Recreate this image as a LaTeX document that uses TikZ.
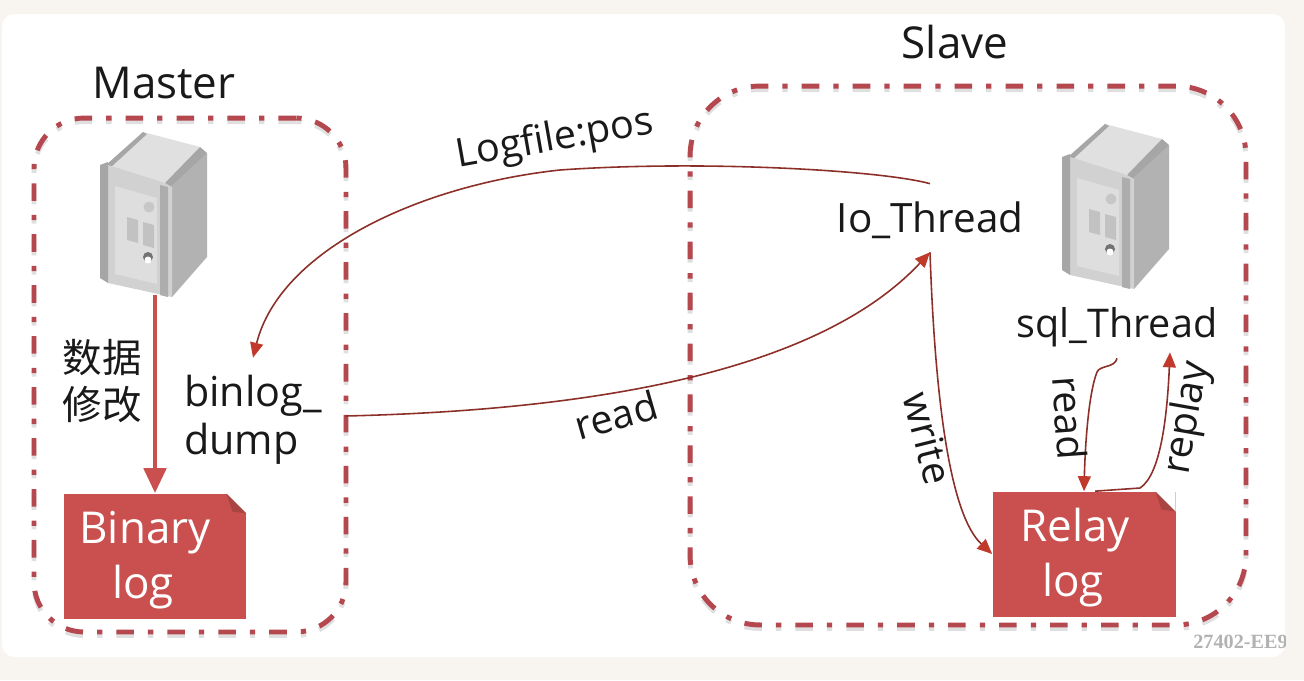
\documentclass[tikz,border=0pt]{standalone}
\usepackage{fontspec}
\setmainfont{Open Sans}
\newfontfamily\cjkfont{Noto Sans CJK SC}
\newfontfamily\markfont{Liberation Serif}
\usetikzlibrary{positioning,calc,arrows.meta}
\definecolor{pageBg}{HTML}{F8F5F0}
\definecolor{frameRed}{HTML}{B5474F}
\definecolor{logRed}{HTML}{C9504F}
\definecolor{foldRed}{HTML}{A84442}
\definecolor{lineRed}{HTML}{8C2F28}
\definecolor{tipRed}{HTML}{C0392B}
\tikzset{
    frame/.style={
        rectangle,
        draw=frameRed,
        line width=2.8pt,
        dash pattern=on 10pt off 8pt on 3pt off 8pt,
        preaction={draw=gray, opacity=0.25, transform canvas={yshift=-2pt}}
    },
    title/.style={font=\fontsize{25}{30}\selectfont, text=black!90},
    lbl/.style={font=\fontsize{23}{27}\selectfont, text=black!90, align=left},
    edgelbl/.style={font=\fontsize{22.5}{26}\selectfont, text=black!90, inner sep=0pt},
    logbox/.style={
        rectangle,
        fill=logRed,
        text=white,
        align=center,
        minimum width=3.66cm,
        minimum height=2.5cm,
        font=\fontsize{25}{31.5}\selectfont,
        path picture={
            \fill[white] ($(path picture bounding box.north east)+(-20,0)$) -- (path picture bounding box.north east) -- ($(path picture bounding box.north east)+(0,20)$) -- cycle;
            \fill[foldRed] ($(path picture bounding box.north east)+(-20,0)$) -- ($(path picture bounding box.north east)+(-14,18)$) -- ($(path picture bounding box.north east)+(0,20)$) -- cycle;
        }
    },
    arr/.style={-{Triangle[length=3mm, width=2.6mm, color=tipRed]}, draw=lineRed, line width=0.9pt},
    server/.pic={
        \fill[black!12] (143,132) -- (200,147) -- (165,183) -- (108,167) -- cycle;
        \fill[black!30] (165,187) -- (207,153) -- (207,257) -- (172,297) -- cycle;
        \fill[black!35] (200,147) -- (207,153) -- (170,187) -- (165,183) -- cycle;
        \fill[black!35] (143,132) -- (147,134) -- (110,168) -- (106,165) -- cycle;
        \fill[black!18] (108,165) -- (165,183) -- (172,187) -- (172,297) -- (108,283) -- cycle;
        \fill[black!35] (100,165) -- (108,162) -- (108,283) -- (100,278) -- cycle;
        \fill[black!32] (160,185) -- (168,187) -- (168,297) -- (160,295) -- cycle;
        \fill[black!13] (115,186) -- (157,198) -- (157,284) -- (115,274) -- cycle;
        \fill[black!24] (127,217) -- (138,220) -- (138,243) -- (127,240) -- cycle;
        \fill[black!24] (143,222) -- (154,225) -- (154,248) -- (143,245) -- cycle;
        \fill[black!22] (149,207) circle (5.5);
        \fill[black!55] (148,257) circle (5);
        \fill[white] (148,260) circle (3.5);
        \coordinate (-base) at (155,295);
    }
}
\begin{document}
\begin{tikzpicture}[x=0.02cm, y=-0.02cm]
\useasboundingbox (0,0) rectangle (1304,680);
\fill[pageBg] (0,0) rectangle (1304,680);
\fill[white, rounded corners=0.25cm] (2,14) rectangle (1285,657);

% Frames
\node[frame, rounded corners=1cm, minimum width=6.24cm, minimum height=10.28cm] (masterbox) at (190,375) {};
\node[frame, rounded corners=1.4cm, minimum width=11.12cm, minimum height=10.78cm] (slavebox) at (968,355.5) {};
\node[title] (master) at (164,83) {Master};
\node[title] (slave) at (955,42) {Slave};

% Servers
\pic (mastersrv) {server};
\pic[shift={(962,-8)}] (slavesrv) {server};

% Logs
\node[logbox] (binary) at (155,556) {\rule{0pt}{23pt}Binary\hspace*{11.4pt}\\log\hspace*{13.6pt}};
\node[logbox] (relay) at (1084,554) {\rule{0pt}{23pt}Relay\hspace*{10pt}\\log\hspace*{12.5pt}};

% Labels
\node[lbl, font=\cjkfont\fontsize{22.5}{27}\selectfont, align=center] (change) at (102,381) {数据\\修改};
\node[lbl, font=\fontsize{23.5}{27}\selectfont, minimum width=3.68cm, minimum height=2.32cm, inner sep=0pt] (binlog) at (253,416) {\rule{0pt}{22pt}binlog\_\\dump};
\node[lbl, inner xsep=0pt, inner ysep=0pt, minimum height=1.36cm, text height=22pt, text depth=5pt] (iothread) at (930,218) {Io\_Thread};
\node[lbl, font=\fontsize{22.5}{27}\selectfont, inner sep=0pt, minimum height=1.4cm, text height=22pt, text depth=5pt] (sqlthread) at (1117,323) {sql\_Thread};

% Connectors
\draw[-{Triangle[length=5mm, width=4.4mm]}, draw=logRed, line width=2.8pt] (mastersrv-base) -- (binary.north);
\draw[arr] (iothread.north) .. controls (880,170) and (700,160) .. (560,170) .. controls (420,185) and (280,250) .. (binlog.north);
\draw[arr] (binlog.east) .. controls (600,410) and (820,370) .. (iothread.south);
\draw[arr] (iothread.south) .. controls (935,400) and (950,515) .. (relay.west);
\draw[arr] (sqlthread.south) .. controls (1115,368) and (1100,365) .. (1097,372) .. controls (1088,395) and (1085,450) .. (relay.north);
\draw[arr] ($(relay.north)+(11,0)$) -- (1140,488) .. controls (1160,475) and (1167,420) .. ($(sqlthread.south)+(53,-6)$);

% Edge labels
\node[edgelbl, rotate=10] (logfile) at (555,140) {Logfile:pos};
\node[edgelbl, rotate=16] (readleft) at (616,415) {read};
\node[edgelbl, rotate=-76] (write) at (928,438) {write};
\node[edgelbl, rotate=-86] (readright) at (1070,418) {read};
\node[edgelbl, rotate=80] (replay) at (1188,418) {replay};

% Watermark
\begin{scope}
\clip (1100,600) rectangle (1285,657);
\node[font=\markfont\bfseries\fontsize{11.5}{13}\selectfont, text=black!30, anchor=west, inner sep=0pt] (mark) at (1193,642) {27402-EE97};
\end{scope}
\end{tikzpicture}
\end{document}
